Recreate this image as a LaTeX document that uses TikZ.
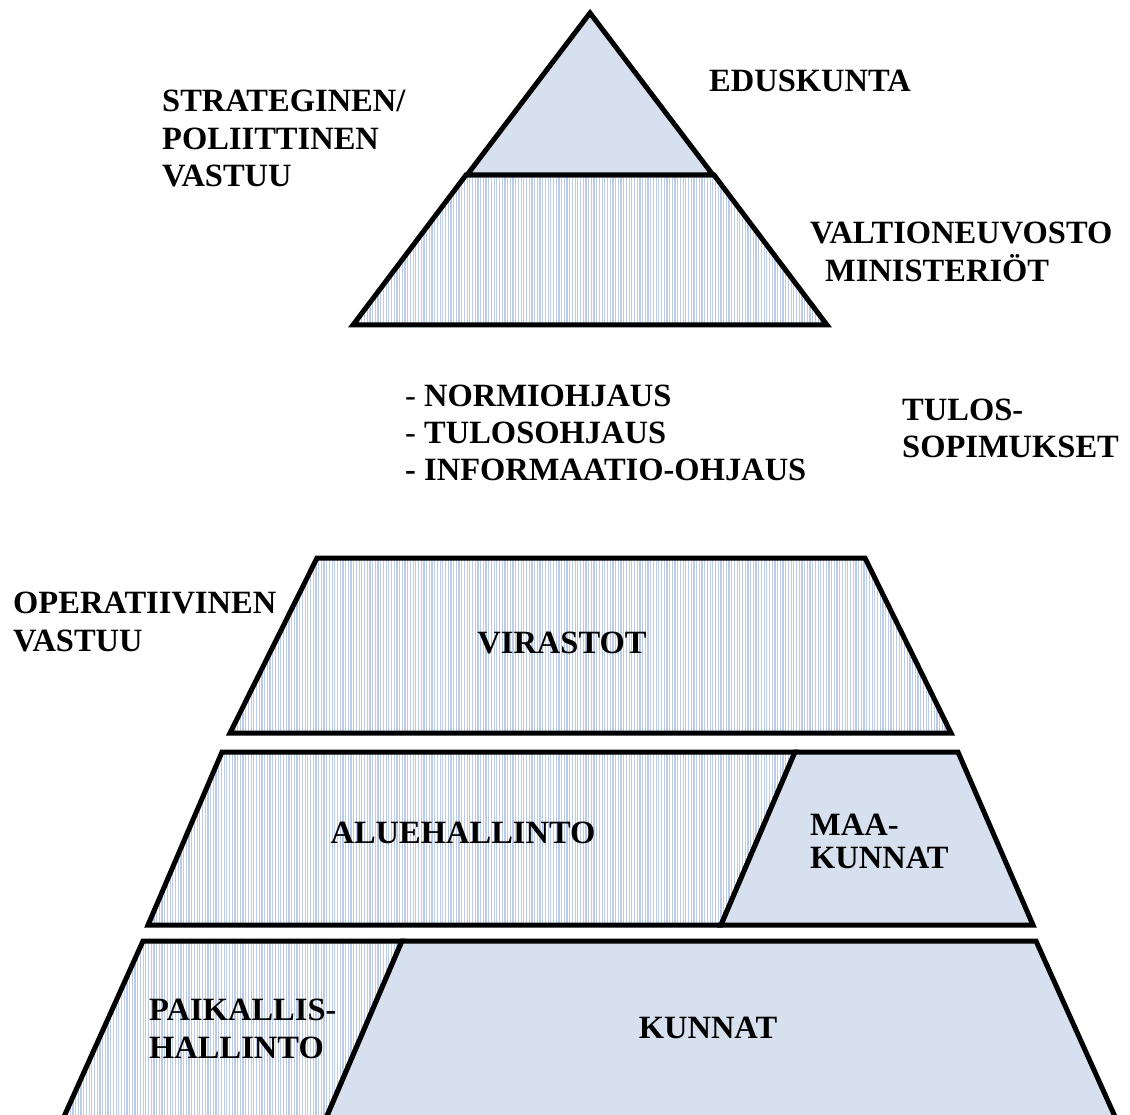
\documentclass[tikz,border=0pt]{standalone}
\usepackage{fontspec}
\setmainfont{Liberation Serif}
\usetikzlibrary{patterns.meta}
\definecolor{solidblue}{HTML}{D6E0EF}
\definecolor{stripeblue}{HTML}{BCCBE8}
\begin{document}
\begin{tikzpicture}[x=1pt,y=-1pt,
  lbl/.style={anchor=base west, inner sep=0pt, font=\fontsize{32.5}{37.5}\selectfont\bfseries},
  clbl/.style={anchor=base, inner sep=0pt, font=\fontsize{32.5}{37.5}\selectfont\bfseries},
  solidshape/.style={draw=black, line width=5pt, fill=solidblue, line join=miter},
  stripeshape/.style={draw=black, line width=5pt, line join=miter,
    pattern={Lines[angle=90,distance=2.7pt,line width=1.2pt]}, pattern color=stripeblue}]
\fill[white] (0,0) rectangle (1130,1115);
\useasboundingbox (0,0) rectangle (1130,1115);
\begin{scope}
\clip (0,0) rectangle (1130,1115);
% top pyramid
\path[stripeshape] (466,175) -- (714,175) -- (827,325) -- (353,325) -- cycle;
\path[solidshape] (590,13) -- (713,175) -- (467,175) -- cycle;
% virastot
\path[stripeshape] (317,558) -- (865,558) -- (951,733) -- (230,733) -- cycle;
% aluehallinto / maakunnat
\path[stripeshape] (222,752) -- (795,752) -- (721,925) -- (148,925) -- cycle;
\path[solidshape] (795,752) -- (958,752) -- (1033,925) -- (721,925) -- cycle;
% paikallishallinto / kunnat
\path[stripeshape] (143,941) -- (402,941) -- (321,1130) -- (58,1130) -- cycle;
\path[solidshape] (402,941) -- (1036,941) -- (1121,1130) -- (321,1130) -- cycle;
\end{scope}
% labels
\node[lbl] (s1) at (162,112) {STRATEGINEN/};
\node[lbl] (s2) at (162,150) {POLIITTINEN};
\node[lbl] (s3) at (162,187) {VASTUU};
\node[lbl] (edu) at (709,92) {EDUSKUNTA};
\node[lbl] (vn) at (810,244) {VALTIONEUVOSTO};
\node[lbl] (min) at (825,282) {MINISTERIÖT};
\node[lbl] (o1) at (405,406) {\mdseries -\bfseries{} NORMIOHJAUS};
\node[lbl] (o2) at (405,443) {\mdseries -\bfseries{} TULOSOHJAUS};
\node[lbl] (o3) at (405,480) {- INFORMAATIO-OHJAUS};
\node[lbl] (t1) at (902,420) {TULOS-};
\node[lbl] (t2) at (902,457) {SOPIMUKSET};
\node[lbl] (op1) at (13,613) {OPERATIIVINEN};
\node[lbl] (op2) at (13,651) {VASTUU};
\node[clbl] (vir) at (562,653) {VIRASTOT};
\node[clbl] (alue) at (463,843) {ALUEHALLINTO};
\node[lbl] (m1) at (810,835) {MAA-};
\node[lbl] (m2) at (810,868) {KUNNAT};
\node[lbl] (p1) at (149,1020) {PAIKALLIS-};
\node[lbl] (p2) at (149,1058) {HALLINTO};
\node[clbl] (kun) at (708,1038) {KUNNAT};
\end{tikzpicture}
\end{document}
